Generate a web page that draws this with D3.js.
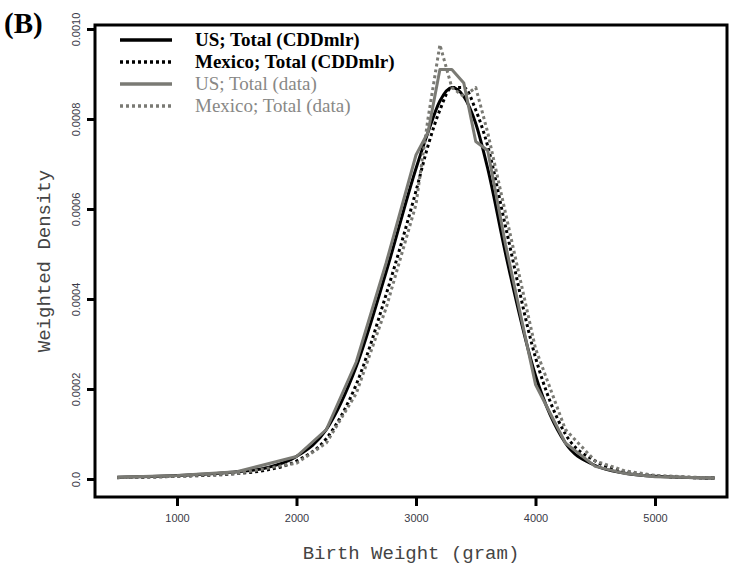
<!DOCTYPE html>
<html>
<head>
<meta charset="utf-8">
<script src="https://cdn.jsdelivr.net/npm/d3@7"></script>
<style>
  body { margin: 0; background: #fff; }
  svg { display: block; }
</style>
</head>
<body>
<svg id="chart" width="729" height="571"></svg>
<script>
// birth weight grid (gram)
const wGrid = [500, 1000, 1500, 1750, 2000, 2250, 2500, 2750, 3000, 3100, 3200, 3300, 3400, 3500, 3600, 3750, 4000, 4250, 4500, 4750, 5000, 5500];

// weighted density
const usModel = [0.000004, 0.000008, 0.000016, 0.000025, 0.00005, 0.00011, 0.00025, 0.00046, 0.00069, 0.00077, 0.00084, 0.00087, 0.00085, 0.00079, 0.00069, 0.00050, 0.00023, 0.00008, 0.00003, 0.000013, 0.000006, 0.000002];
const mxModel = [0.000003, 0.000006, 0.000012, 0.00002, 0.00004, 0.00009, 0.00021, 0.00041, 0.00064, 0.00074, 0.00082, 0.00087, 0.00087, 0.00082, 0.00074, 0.00056, 0.00027, 0.0001, 0.00004, 0.000016, 0.000007, 0.000002];

const wData = [500, 1000, 1500, 2000, 2250, 2500, 2750, 3000, 3100, 3200, 3300, 3400, 3500, 3600, 3750, 4000, 4250, 4500, 4750, 5000, 5500];
const usData = [0.000004, 0.000008, 0.000016, 0.00005, 0.00011, 0.00026, 0.00048, 0.00072, 0.00077, 0.00091, 0.00091, 0.00088, 0.00075, 0.00073, 0.00052, 0.00021, 0.00008, 0.000028, 0.000012, 0.000005, 0.000002];
const mxData = [0.000003, 0.000006, 0.000012, 0.000035, 0.00008, 0.00019, 0.00038, 0.00061, 0.00080, 0.000965, 0.00087, 0.00085, 0.00087, 0.00077, 0.00059, 0.00029, 0.00011, 0.00004, 0.000018, 0.000008, 0.000002];

const xTicks = [1000, 2000, 3000, 4000, 5000];
const yTicks = [0, 0.0002, 0.0004, 0.0006, 0.0008, 0.0010];
const yTickLabels = ["0.0", "0.0002", "0.0004", "0.0006", "0.0008", "0.0010"];

const legendNames = ["US; Total (CDDmlr)", "Mexico; Total (CDDmlr)", "US; Total (data)", "Mexico; Total (data)"];

const svg = d3.select("#chart");

const box = { left: 95, right: 727, top: 25, bottom: 497 };

const x = d3.scaleLinear().domain([1000, 5000]).range([177, 655]);
const y = d3.scaleLinear().domain([0, 0.001]).range([479, 29]);

// series config
const series = [
  { xs: wGrid, ys: usModel, color: "#000", dash: null, curve: d3.curveMonotoneX },
  { xs: wGrid, ys: mxModel, color: "#000", dash: "3,3", curve: d3.curveMonotoneX },
  { xs: wData, ys: usData, color: "#7a7a74", dash: null, curve: d3.curveLinear },
  { xs: wData, ys: mxData, color: "#7a7a74", dash: "3,3", curve: d3.curveLinear }
];

// panel tag
svg.append("text")
  .attr("x", 4).attr("y", 33)
  .attr("font-family", "'Liberation Serif', 'DejaVu Serif', serif")
  .attr("font-weight", "bold")
  .attr("font-size", 29)
  .text("(B)");

// curves, drawn under the frame
const plot = svg.append("g");
series.forEach(function(s) {
  const line = d3.line()
    .x(function(d, i) { return x(s.xs[i]); })
    .y(function(d) { return y(d); })
    .curve(s.curve);
  plot.append("path")
    .datum(s.ys)
    .attr("d", line)
    .attr("fill", "none")
    .attr("stroke", s.color)
    .attr("stroke-width", 3)
    .attr("stroke-dasharray", s.dash)
    .attr("stroke-linejoin", "round");
});

// frame
svg.append("rect")
  .attr("x", box.left).attr("y", box.top)
  .attr("width", box.right - box.left)
  .attr("height", box.bottom - box.top)
  .attr("fill", "none")
  .attr("stroke", "#000")
  .attr("stroke-width", 3);

// y axis
const yAxis = svg.append("g")
  .attr("transform", "translate(" + box.left + ",0)")
  .call(d3.axisLeft(y)
    .tickValues(yTicks)
    .tickSize(8)
    .tickPadding(10)
    .tickFormat(function(d, i) { return yTickLabels[i]; }));
yAxis.select(".domain").remove();
yAxis.selectAll(".tick line").attr("stroke", "#000").attr("stroke-width", 3);
yAxis.selectAll(".tick text")
  .attr("font-family", "'Liberation Sans', Arial, sans-serif")
  .attr("font-size", 11)
  .attr("fill", "#3a3a48")
  .attr("x", null).attr("dy", null)
  .attr("text-anchor", "middle")
  .attr("transform", "translate(-15,0) rotate(-90)");

// x axis
const xAxis = svg.append("g")
  .attr("transform", "translate(0," + box.bottom + ")")
  .call(d3.axisBottom(x)
    .tickValues(xTicks)
    .tickSize(9)
    .tickPadding(8)
    .tickFormat(d3.format("d")));
xAxis.select(".domain").remove();
xAxis.selectAll(".tick line").attr("stroke", "#000").attr("stroke-width", 3);
xAxis.selectAll(".tick text")
  .attr("font-family", "'Liberation Sans', Arial, sans-serif")
  .attr("font-size", 11)
  .attr("fill", "#3a3a48");

// axis titles
svg.append("text")
  .attr("x", 411).attr("y", 559)
  .attr("text-anchor", "middle")
  .attr("font-family", "'Liberation Mono', 'DejaVu Sans Mono', monospace")
  .attr("font-size", 19)
  .attr("fill", "#444")
  .text("Birth Weight (gram)");

svg.append("text")
  .attr("transform", "translate(50,261) rotate(-90)")
  .attr("text-anchor", "middle")
  .attr("font-family", "'Liberation Mono', 'DejaVu Sans Mono', monospace")
  .attr("font-size", 19)
  .attr("fill", "#444")
  .text("Weighted Density");

// legend
const legend = svg.append("g");
series.forEach(function(s, i) {
  const ly = 40 + i * 22;
  legend.append("line")
    .attr("x1", 120).attr("x2", 172)
    .attr("y1", ly).attr("y2", ly)
    .attr("stroke", s.color)
    .attr("stroke-width", 3.5)
    .attr("stroke-dasharray", s.dash);
  legend.append("text")
    .attr("x", 195).attr("y", ly + 6)
    .attr("font-family", "'Liberation Serif', 'DejaVu Serif', serif")
    .attr("font-weight", i < 2 ? "bold" : "normal")
    .attr("font-size", 19)
    .attr("fill", i < 2 ? "#000" : "#888886")
    .text(legendNames[i]);
});
</script>
</body>
</html>
